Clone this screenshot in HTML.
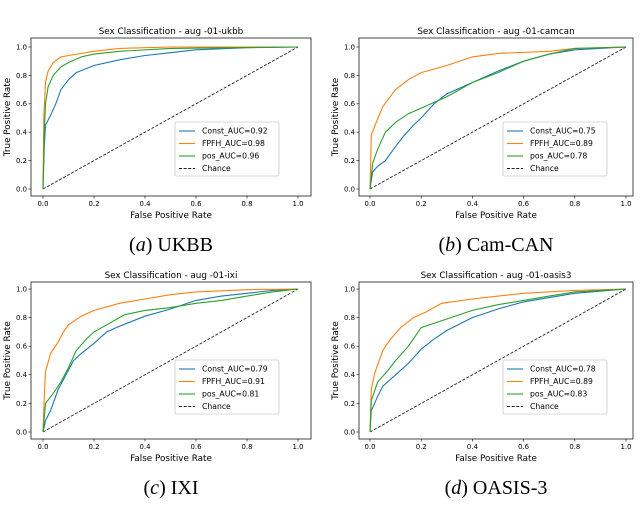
<!DOCTYPE html>
<html><head><meta charset="utf-8"><style>
body{margin:0;background:#fff;width:640px;height:503px;overflow:hidden}
svg text{font-family:"DejaVu Sans","Liberation Sans",sans-serif;fill:#000}
.cap{font-family:"Liberation Serif",serif;font-size:20px}
</style></head><body>
<svg id="fig" width="640" height="503" xmlns="http://www.w3.org/2000/svg"></svg>
<script>
const fprTicks=[0,0.2,0.4,0.6,0.8,1.0];
const tprTicks=[0,0.2,0.4,0.6,0.8,1.0];
const seriesNames=["Const","FPFH","pos"];
const colors=["#1f77b4","#ff7f0e","#2ca02c"];
const ukbbAuc=[0.92,0.98,0.96];
const camcanAuc=[0.75,0.89,0.78];
const ixiAuc=[0.79,0.91,0.81];
const oasisAuc=[0.78,0.89,0.83];
const ukbbConst=[[0,0],[0.005,0.3],[0.01,0.45],[0.03,0.52],[0.05,0.6],[0.07,0.7],[0.1,0.77],[0.13,0.82],[0.2,0.87],[0.3,0.91],[0.4,0.94],[0.5,0.96],[0.6,0.98],[0.8,0.995],[1,1]];
const ukbbFpfh=[[0,0],[0.003,0.5],[0.01,0.75],[0.02,0.83],[0.04,0.89],[0.07,0.93],[0.1,0.94],[0.2,0.97],[0.3,0.99],[0.5,1],[1,1]];
const ukbbPos=[[0,0],[0.005,0.4],[0.01,0.6],[0.02,0.72],[0.04,0.8],[0.07,0.86],[0.1,0.89],[0.15,0.93],[0.2,0.95],[0.3,0.97],[0.5,0.99],[1,1]];
const camConst=[[0,0],[0.01,0.12],[0.03,0.16],[0.06,0.2],[0.1,0.3],[0.13,0.37],[0.17,0.45],[0.2,0.5],[0.25,0.6],[0.3,0.67],[0.4,0.75],[0.5,0.83],[0.6,0.9],[0.7,0.95],[0.8,0.98],[1,1]];
const camFpfh=[[0,0],[0.005,0.38],[0.02,0.45],[0.05,0.58],[0.1,0.7],[0.15,0.77],[0.2,0.82],[0.3,0.87],[0.4,0.93],[0.5,0.955],[0.7,0.97],[0.8,0.99],[1,1]];
const camPos=[[0,0],[0.01,0.18],[0.03,0.28],[0.06,0.4],[0.1,0.47],[0.15,0.53],[0.2,0.57],[0.3,0.65],[0.4,0.75],[0.5,0.82],[0.6,0.9],[0.7,0.95],[0.8,0.99],[1,1]];
const ixiConst=[[0,0],[0.01,0.08],[0.03,0.15],[0.06,0.3],[0.09,0.4],[0.12,0.5],[0.15,0.55],[0.2,0.62],[0.25,0.7],[0.3,0.74],[0.4,0.81],[0.5,0.86],[0.6,0.92],[0.7,0.95],[0.8,0.97],[0.9,0.99],[1,1]];
const ixiFpfh=[[0,0],[0.005,0.25],[0.01,0.42],[0.03,0.55],[0.06,0.63],[0.08,0.7],[0.1,0.75],[0.15,0.81],[0.2,0.85],[0.3,0.9],[0.4,0.93],[0.5,0.96],[0.6,0.98],[0.8,0.995],[1,1]];
const ixiPos=[[0,0],[0.01,0.2],[0.04,0.27],[0.07,0.35],[0.1,0.45],[0.13,0.57],[0.17,0.65],[0.2,0.7],[0.25,0.75],[0.32,0.82],[0.4,0.85],[0.5,0.87],[0.6,0.9],[0.7,0.92],[0.8,0.95],[0.9,0.98],[1,1]];
const oasisConst=[[0,0],[0.005,0.15],[0.03,0.25],[0.05,0.32],[0.1,0.4],[0.15,0.48],[0.2,0.58],[0.25,0.65],[0.3,0.71],[0.4,0.8],[0.5,0.86],[0.6,0.91],[0.7,0.94],[0.8,0.97],[1,1]];
const oasisFpfh=[[0,0],[0.005,0.3],[0.02,0.42],[0.05,0.57],[0.08,0.65],[0.12,0.73],[0.17,0.8],[0.22,0.84],[0.28,0.9],[0.4,0.93],[0.5,0.95],[0.6,0.97],[0.8,0.99],[1,1]];
const oasisPos=[[0,0],[0.005,0.22],[0.03,0.35],[0.07,0.43],[0.1,0.5],[0.15,0.6],[0.2,0.73],[0.3,0.79],[0.4,0.85],[0.5,0.89],[0.6,0.92],[0.7,0.95],[0.8,0.98],[1,1]];

const NS="http://www.w3.org/2000/svg";
const svg=document.getElementById('fig');
function mk(tag,attrs,parent,text){const e=document.createElementNS(NS,tag);for(const k in attrs)e.setAttribute(k,attrs[k]);if(text!==undefined)e.textContent=text;(parent||svg).appendChild(e);return e;}

function panel(key,title,caption,capLetter,fx0,fx1,fy0,fy1,x0,x1,y0,y1,curves,auc,lx,ly){
  const g=mk('g',{});
  
  
  const X=v=>x0+v*(x1-x0), Y=v=>y0-v*(y0-y1);
  const fr=mk('rect',{x:fx0,y:fy0,width:fx1-fx0,height:fy1-fy0,fill:'#fff',stroke:'#333','stroke-width':0.9},g);
  
  
  const t=mk('text',{x:(fx0+fx1)/2,y:fy0-4,'text-anchor':'middle','font-size':8.8},g,title);
  
  
  fprTicks.forEach(v=>{mk('line',{x1:X(v),x2:X(v),y1:fy1,y2:fy1+2.5,stroke:'#000','stroke-width':0.6},g);
    const tl=mk('text',{x:X(v),y:fy1+10,'text-anchor':'middle','font-size':6.9},g,v.toFixed(1));
    
    });
  tprTicks.forEach(v=>{mk('line',{x1:fx0,x2:fx0-2.5,y1:Y(v),y2:Y(v),stroke:'#000','stroke-width':0.6},g);
    const tl=mk('text',{x:fx0-4,y:Y(v)+2.4,'text-anchor':'end','font-size':6.9},g,v.toFixed(1));
    
    });
  const xl=mk('text',{x:(fx0+fx1)/2,y:fy1+22,'text-anchor':'middle','font-size':8.8},g,'False Positive Rate');
  
  
  const yx=fx0-21, yy=(fy0+fy1)/2;
  const yl=mk('text',{x:yx,y:yy,'text-anchor':'middle','font-size':8.8,transform:`rotate(-90 ${yx} ${yy})`},g,'True Positive Rate');
  
  
  const ch=mk('line',{x1:X(0),y1:Y(0),x2:X(1),y2:Y(1),stroke:'#222','stroke-width':0.9,'stroke-dasharray':'3,1.6'},g);
  
  
  curves.forEach((c,i)=>{
    const p=mk('polyline',{points:c.map(d=>X(d[0]).toFixed(1)+','+Y(d[1]).toFixed(1)).join(' '),fill:'none',stroke:colors[i],'stroke-width':1.1},g);
    
    
  });
  const lg=mk('g',{},g);
  
  
  mk('rect',{x:lx,y:ly,width:104,height:54,fill:'#fff',stroke:'#ccc','stroke-width':0.8,rx:1.5},lg);
  const labels=seriesNames.map((n,i)=>n+'_AUC='+auc[i].toFixed(2)).concat(['Chance']);
  labels.forEach((s,i)=>{
    const yy=ly+9+i*12.5;
    mk('line',{x1:lx+4,x2:lx+20,y1:yy,y2:yy,stroke:i<3?colors[i]:'#222','stroke-width':1.1,'stroke-dasharray':i<3?'none':'3,1.6'},lg);
    const e=mk('text',{x:lx+27,y:yy+2.7,'font-size':7.7},lg,s);
    
    
  });
  const cx=(fx0+fx1)/2;
  const cp=mk('text',{x:cx,y:fy1+55,'text-anchor':'middle',class:'cap'},g);
  
  
  mk('tspan',{},cp,'(');
  mk('tspan',{'font-style':'italic'},cp,capLetter);
  mk('tspan',{},cp,') '+caption);
}
panel('ukbb','Sex Classification - aug -01-ukbb','UKBB','a',31,311,38,196,43,298,189,47,[ukbbConst,ukbbFpfh,ukbbPos],ukbbAuc,175,122);
panel('camcan','Sex Classification - aug -01-camcan','Cam-CAN','b',359,633,38,196,370,626,189,47,[camConst,camFpfh,camPos],camcanAuc,503,122);
panel('ixi','Sex Classification - aug -01-ixi','IXI','c',31,311,282,439,43,298,432,289,[ixiConst,ixiFpfh,ixiPos],ixiAuc,175,360);
panel('oasis','Sex Classification - aug -01-oasis3','OASIS-3','d',359,633,282,439,370,626,432,289,[oasisConst,oasisFpfh,oasisPos],oasisAuc,503,360);
</script>
</body></html>
